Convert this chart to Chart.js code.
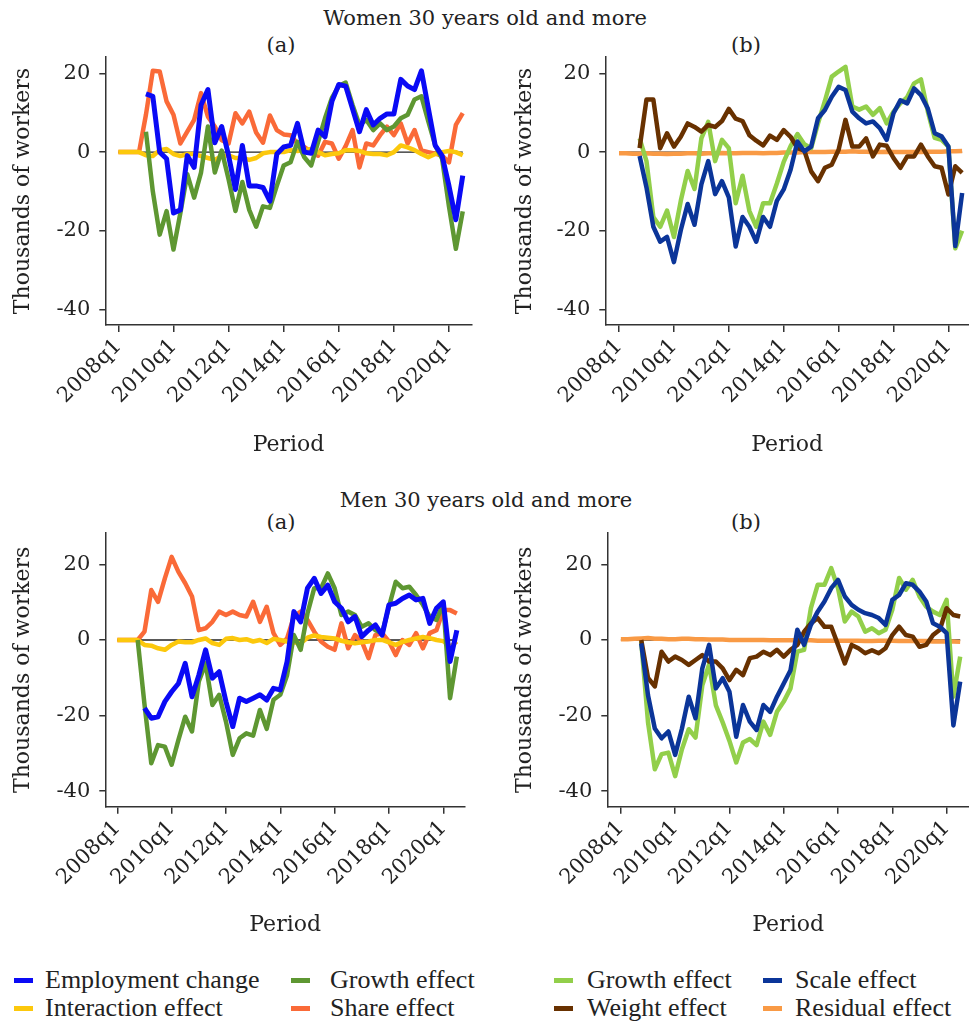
<!DOCTYPE html>
<html>
<head>
<meta charset="utf-8">
<script src="https://cdn.jsdelivr.net/npm/chart.js@4.4.1/dist/chart.umd.min.js"></script>
<style>
  body { margin: 0; width: 969px; height: 1023px; overflow: hidden; background: #fff; position: relative;
         font-family: 'DejaVu Serif', serif; color: #222; }
  .box { position: absolute; }
  .t { position: absolute; font-size: 21px; line-height: 24px; white-space: nowrap; transform: translateX(-50%); }
  .leg { position: absolute; font-family: 'Liberation Serif', serif; font-size: 26px; line-height: 28px; white-space: nowrap; }
  .mk { position: absolute; width: 19px; height: 5px; }
</style>
</head>
<body>
<div class="t" style="left:485px;top:6px">Women 30 years old and more</div>
<div class="t" style="left:281px;top:33px">(a)</div>
<div class="t" style="left:746px;top:33px">(b)</div>
<div class="t" style="left:486px;top:488px">Men 30 years old and more</div>
<div class="t" style="left:281px;top:510px">(a)</div>
<div class="t" style="left:746px;top:510px">(b)</div>

<div class="box" style="left:0;top:50px"><canvas id="wa" width="480" height="410"></canvas></div>
<div class="box" style="left:500px;top:50px"><canvas id="wb" width="469" height="410"></canvas></div>
<div class="box" style="left:0;top:526px"><canvas id="ma" width="480" height="416"></canvas></div>
<div class="box" style="left:500px;top:526px"><canvas id="mb" width="469" height="416"></canvas></div>

<div id="legend"></div>

<script>
// quarters on the x axis, index 0 = 2008q1
const quarters = [
  '2008q1','2008q2','2008q3','2008q4','2009q1','2009q2','2009q3','2009q4',
  '2010q1','2010q2','2010q3','2010q4','2011q1','2011q2','2011q3','2011q4',
  '2012q1','2012q2','2012q3','2012q4','2013q1','2013q2','2013q3','2013q4',
  '2014q1','2014q2','2014q3','2014q4','2015q1','2015q2','2015q3','2015q4',
  '2016q1','2016q2','2016q3','2016q4','2017q1','2017q2','2017q3','2017q4',
  '2018q1','2018q2','2018q3','2018q4','2019q1','2019q2','2019q3','2019q4',
  '2020q1','2020q2','2020q3'
];
const xTickPos = [0, 8, 16, 24, 32, 40, 48];
const yTickPos = [-40, -20, 0, 20];
const yTickLabels = ['-40', '-20', '0', '20'];

// Women 30+, panel (a)
const empW = [null,null,null,null, 14.8,14.2,0,-1.7, -15.5,-14.7,-0.9,-3.9, 12,15.9,2.4,6.5,
  -0.9,-9.5,1.7,-8.6, -8.6,-9,-12.5,-0.5, 1.3,1.7,7.3,0, -0.3,5.6,3.9,12.9,
  17.2,16.8,11,5.2, 10.8,6.9,8.6,9.7, 9.7,18.5,16.8,15.9, 20.7,11.2,1.7,-0.9, -8.6,-17.2,-6];
const growthWa = [null,null,null,null, 5.2,-10,-21,-15, -24.8,-15.5,-5.6,-11.6, -5.2,6.5,-5.2,0.4,
  -6.9,-15,-7.6,-14.7, -19,-13.8,-14.2,-8.6, -3.4,-2.6,2.6,-1.3, -3.4,2.6,8.6,13.8,
  16.8,17.7,12,6.9, 8.2,5.6,7.3,5.6, 6.5,8.6,9.5,13.4, 14.2,7.8,1.7,-1.7, -13.8,-24.6,-15.1];
const interWa = [0,0,0,0, -0.8,-1,0.5,0.8, -0.5,-1,-0.5,-0.5, -1,-1.5,-2,-1,
  -0.8,-1.5,-1.5,-2, -1.5,-0.3,0,0, 0,0.5,0.3,0.5, 0.8,0,-0.8,-0.5,
  -0.3,0.5,0.5,0.3, -0.3,-0.5,-0.5,-0.8, 0,1.7,1.2,0.5, -0.5,-1.3,-0.5,0, 0.3,0,-0.8];
const shareWa = [0,0,0,0, 9.5,20.7,20.5,12.9, 9.5,2.2,5.2,8.2, 15,9,6.5,3,
  2.2,9.9,7.3,10.3, 5,2.4,9.3,5.6, 4.5,4.3,2.2,1.3, 0,-0.9,2.6,2.2,
  -1.7,1.5,5.6,-3.9, 2.2,1.7,4.3,6.5, 4.3,7.3,2.2,5.6, 0.4,0,-0.4,-0.9, -2.6,6.9,9.9];

// Women 30+, panel (b)
const growthWb = [null,null,null,3.5, -2.3,-16.5,-19,-14.9, -21.6,-12.4,-4.8,-9.4, 3.5,7.7,-2.3,3.1,
  1,-13,-6,-15, -19,-13,-13,-8, -2.5,1.5,4.6,2, 1,7.3,13,19.2,
  20.5,21.7,11.6,10.8, 11.6,9.5,11.2,7.3, 10.3,12.4,14,17.5, 18.5,10.3,3.6,3.1, 1.4,-24.5,-20];
const scaleWb = [null,null,null,-1, -9,-19,-22.8,-21.6, -28,-19.9,-13.2,-18.5, -8.2,-2.3,-10.7,-7.4,
  -11.5,-24,-16.5,-19, -22.8,-16.5,-19,-12.4, -9.5,-4.5,2.7,0.2, 1.4,8.6,10.7,14.1,
  16.6,15.8,10.3,8.6, 7.3,7.8,6.1,3.1, 9.9,13.2,12.4,16.2, 14.5,11.1,4.8,4, 1.4,-23.9,-10.4];
const weightWb = [null,null,null,1, 13.4,13.4,1,4.8, 1.4,3.9,7.3,6.4, 5.2,6.9,6.4,7.9,
  11,8.5,7.9,4.3, 2.9,1.7,4.2,3.1, 5.6,3.9,1,0.4, -4.9,-7.4,-4,-3.2,
  0.6,8.2,1.4,1.4, 3.5,-1.1,1.9,1.6, -1.5,-4,-1.1,-1.1, 1.9,-1.1,-3.6,-4, -10.8,-3.6,-5.3];
const resWb = [-0.3,-0.3,-0.4,-0.4, -0.3,-0.4,-0.4,-0.5, -0.4,-0.4,-0.3,-0.3, -0.4,-0.3,-0.3,-0.2,
  -0.3,-0.3,-0.2,-0.2, -0.2,-0.3,-0.2,-0.2, -0.1,-0.1,-0.1,0, 0,0,0,0.1,
  0.1,0.1,0.2,0.1, 0.1,0,0,0.1, 0,0,0,0, 0,0.1,0.1,0.1, 0.2,0.2,0.3];

// Men 30+, panel (a)
const empM = [null,null,null,null, -18,-20.7,-20.3,-16.3, -13.7,-11.5,-6.2,-15, -9.3,-2.6,-10.1,-8.4,
  -16.3,-22.9,-15.4,-16.3, -15.4,-14.5,-15.9,-12.8, -13.2,-5.7,7.5,4.8, 13.7,16.3,12.3,14.5,
  10.1,8.4,4.8,6.2, 0.9,2.6,4,1.3, 9.3,9.7,11,11.9, 10.6,11,4.4,8.4, 10.1,-5.7,2.6];
const growthMa = [null,null,null,0, -17,-32.6,-27.8,-28.2, -33,-26.4,-20.3,-24.2, -11,-6.2,-17.2,-14.5,
  -21.6,-30.4,-26,-24.7, -25.3,-18.5,-23.5,-15.8, -14.5,-9.3,1.3,-2.6, 7,13.7,13.7,17.6,
  13.7,6.6,7.5,6.6, 3.5,4.4,2.6,1.8, 8.8,15.4,13.7,14.1, 11.9,9.3,6.2,5.3, 9.7,-15.4,-4.4];
const interMa = [0,0,0,0, -1.3,-1.5,-2.2,-2.6, -1.3,-0.4,-0.6,-0.6, 0,0.4,-0.8,-1.3,
  0.3,0.5,0,0.2, -0.4,0,-0.8,0.3, 0,-0.4,-0.6,-0.9, 0.6,1.2,0.8,0.6,
  0.4,-0.2,-0.6,-0.9, -0.6,-0.4,0,0, -0.6,-1.3,-0.5,0, 0.4,0.8,0.5,0, -0.3,-1.8,-0.4];
const shareMa = [0,0,0,0, 2.2,13.2,10.1,16.3, 22,18,15,11.5, 2.6,3.1,4.8,7.5,
  6.6,7.5,6.6,6.2, 10.1,4.8,8.8,1.8, -1.3,0.4,6.2,7.5, 5.3,2.2,-0.4,-1.8,
  -2.6,4.4,-2.2,1.3, -0.4,-4.8,1.3,1.8, -0.4,-4,0,-1.3, 1.8,-2.2,1.8,2.6, 7.9,7.9,7];

// Men 30+, panel (b)
const growthMb = [null,null,null,-0.4, -21.8,-34.2,-30.2,-29.8, -36,-28.9,-23.6,-25.8, -12,-6.5,-17.3,-21.8,
  -26.7,-32.4,-27.1,-26.2, -27.8,-21.6,-25.1,-19, -16.3,-12.8,-3.1,-2.6, 8.4,14.6,14.6,19,
  13.7,4.9,7.5,6.2, 2.2,3.1,1.8,2.7, 8,16.4,13.3,15.9, 11.5,8.8,7.5,6.6, 10.6,-15,-4.4];
const scaleMb = [null,null,null,-0.9, -14.6,-23.4,-26,-24.2, -30.4,-23.4,-15,-20.7, -7.5,-1.3,-12.8,-10.1,
  -13.7,-25.6,-17.2,-21.6, -23.8,-17.2,-19,-15, -11.5,-8,2.7,-1.3, 4,7.5,10.2,13.7,
  15.9,11.5,9.3,8, 7.1,6.6,5.8,4, 10.6,11.9,15,14.6, 12.8,10.2,4.4,3.5, 1.8,-22.6,-11];
const weightMb = [null,null,null,0, -10,-12.3,-3.1,-5.7, -4.4,-5.3,-6.6,-5.3, -4,-5.7,-5.7,-7.5,
  -10.6,-7.9,-9.3,-4.8, -4.4,-3.1,-4,-2.6, -4.4,-2.6,-1.3,2.2, 4.4,5.8,3.5,3.5,
  -1.3,-6.2,-1.3,-2.2, -3.5,-2.7,-3.5,-2.2, 1.3,3.5,1.3,0.9, -1.8,-1.3,1.3,2.7, 8.4,6.6,6.2];
const resMb = [0.2,0.2,0.3,0.4, 0.5,0.3,0.3,0.2, 0.2,0.3,0.3,0.2, 0.2,0.1,0.1,0.1,
  0,0,0,0, 0,0,-0.1,-0.1, -0.1,-0.1,-0.1,-0.1, -0.1,-0.2,-0.2,-0.2,
  -0.2,-0.2,-0.2,-0.2, -0.3,-0.3,-0.2,-0.2, -0.2,-0.3,-0.3,-0.3, -0.3,-0.3,-0.4,-0.4, -0.4,-0.4,-0.5];

const zeroLine = quarters.map(() => 0);

const COLORS = {
  emp: '#0a0af5', growthA: '#5e9732', inter: '#fcc80c', share: '#fa6a38',
  growthB: '#92cf4a', scale: '#0b3599', weight: '#683100', resid: '#f99a45'
};
const FONT = "'DejaVu Serif', serif";

function line(label, values, color, width) {
  return {
    label: label,
    data: values.map((v, i) => ({ x: i, y: v })),
    borderColor: color,
    borderWidth: width,
    pointRadius: 0,
    tension: 0,
    fill: false,
    borderJoinStyle: 'round'
  };
}

function makePanel(id, datasets, box) {
  // thin black line at zero goes below everything
  datasets.push(line('zero', zeroLine, '#222', 1.3));
  return new Chart(document.getElementById(id), {
    type: 'line',
    data: { datasets: datasets },
    options: {
      responsive: false,
      animation: false,
      events: [],
      layout: { padding: { top: 7, right: box.padRight, bottom: 0, left: 0 } },
      plugins: { legend: { display: false }, tooltip: { enabled: false } },
      scales: {
        x: {
          type: 'linear',
          min: box.xMin,
          max: box.xMax,
          afterBuildTicks: s => { s.ticks = xTickPos.map(v => ({ value: v })); },
          afterFit: s => { s.height = box.xAxisH; s.paddingLeft = 0; s.paddingRight = 0; },
          ticks: {
            callback: v => quarters[v],
            autoSkip: false, maxRotation: 45, minRotation: 45, padding: 2,
            color: '#222', font: { family: FONT, size: 21 }
          },
          grid: { drawOnChartArea: false, tickLength: 7, color: '#333', lineWidth: 1.5 },
          border: { color: '#333', width: 1.5 },
          title: { display: true, text: 'Period', color: '#222',
                   font: { family: FONT, size: 22 }, padding: { top: 0, bottom: box.periodPad } }
        },
        y: {
          min: box.yMin,
          max: box.yMax,
          afterBuildTicks: s => { s.ticks = yTickPos.map(v => ({ value: v })); },
          afterFit: s => { s.width = box.yAxisW; s.paddingTop = 0; s.paddingBottom = 0; },
          ticks: {
            callback: v => yTickLabels[yTickPos.indexOf(v)],
            padding: 9, color: '#222', font: { family: FONT, size: 21 }
          },
          grid: { drawOnChartArea: false, tickLength: 6, color: '#333', lineWidth: 1.5 },
          border: { color: '#333', width: 1.5 },
          title: { display: true, text: 'Thousands of workers', color: '#222',
                   font: { family: FONT, size: 22 }, padding: { top: box.titlePad, bottom: 0 } }
        }
      }
    }
  });
}

makePanel('wa', [
  line('Employment change', empW, COLORS.emp, 5),
  line('Growth effect', growthWa, COLORS.growthA, 4.5),
  line('Interaction effect', interWa, COLORS.inter, 4.5),
  line('Share effect', shareWa, COLORS.share, 4.5)
], { xMin: -1.9, xMax: 51.3, yMin: -44, yMax: 24.2, yAxisW: 105.3, xAxisH: 135, padRight: 8.3, periodPad: 2, titlePad: 10 });

makePanel('wb', [
  line('Scale effect', scaleWb, COLORS.scale, 4.5),
  line('Weight effect', weightWb, COLORS.weight, 4.5),
  line('Growth effect', growthWb, COLORS.growthB, 4.5),
  line('Residual effect', resWb, COLORS.resid, 4.5)
], { xMin: -2.0, xMax: 51.0, yMin: -44, yMax: 24.2, yAxisW: 105.3, xAxisH: 135, padRight: 0, periodPad: 2, titlePad: 12 });

makePanel('ma', [
  line('Employment change', empM, COLORS.emp, 5),
  line('Growth effect', growthMa, COLORS.growthA, 4.5),
  line('Interaction effect', interMa, COLORS.inter, 4.5),
  line('Share effect', shareMa, COLORS.share, 4.5)
], { xMin: -1.77, xMax: 51.2, yMin: -44.1, yMax: 28.3, yAxisW: 105.3, xAxisH: 135.3, padRight: 15, periodPad: 4, titlePad: 10 });

makePanel('mb', [
  line('Scale effect', scaleMb, COLORS.scale, 4.5),
  line('Weight effect', weightMb, COLORS.weight, 4.5),
  line('Growth effect', growthMb, COLORS.growthB, 4.5),
  line('Residual effect', resMb, COLORS.resid, 4.5)
], { xMin: -2.0, xMax: 51.3, yMin: -44.1, yMax: 28.3, yAxisW: 107.3, xAxisH: 135.3, padRight: 0, periodPad: 4, titlePad: 12 });

// legend under the panels, two rows of four
const legendItems = [
  ['Employment change', COLORS.emp, 14, 45, 0],
  ['Growth effect', COLORS.growthA, 291, 330, 0],
  ['Growth effect', COLORS.growthB, 554, 587, 0],
  ['Scale effect', COLORS.scale, 763, 795, 0],
  ['Interaction effect', COLORS.inter, 14, 45, 1],
  ['Share effect', COLORS.share, 291, 330, 1],
  ['Weight effect', COLORS.weight, 554, 587, 1],
  ['Residual effect', COLORS.resid, 763, 795, 1]
];
const legend = document.getElementById('legend');
legendItems.forEach(([text, color, mx, tx, row]) => {
  const cy = row === 0 ? 980 : 1008;
  const mk = document.createElement('div');
  mk.className = 'mk';
  mk.style.left = mx + 'px';
  mk.style.top = (cy - 2) + 'px';
  mk.style.background = color;
  legend.appendChild(mk);
  const lab = document.createElement('div');
  lab.className = 'leg';
  lab.style.left = tx + 'px';
  lab.style.top = (cy - 14) + 'px';
  lab.textContent = text;
  legend.appendChild(lab);
});
</script>
</body>
</html>
